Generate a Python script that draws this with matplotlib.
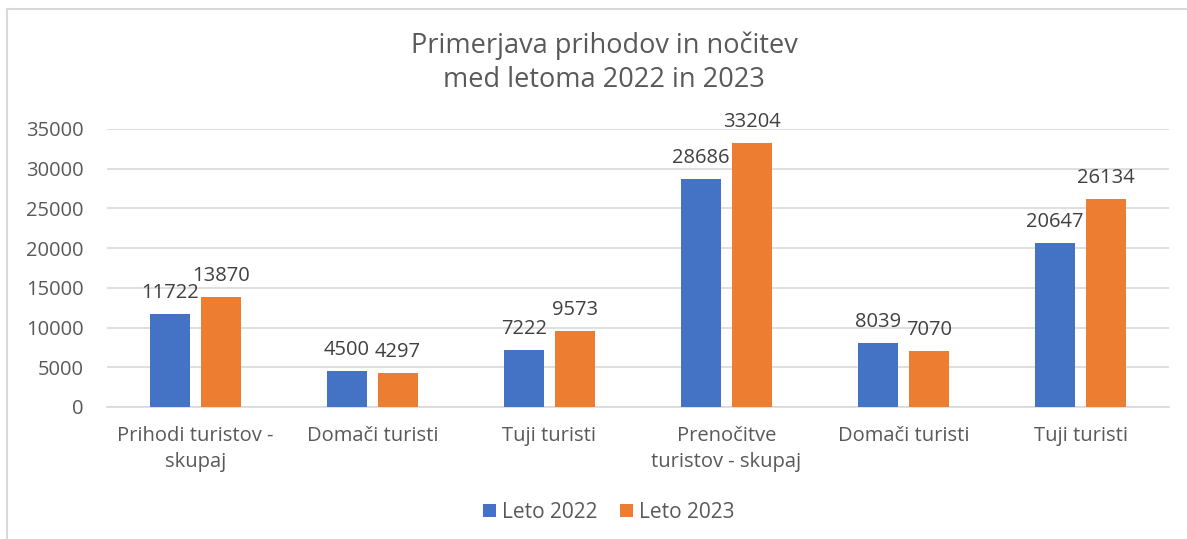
import matplotlib
matplotlib.use("Agg")
import matplotlib.pyplot as plt
from matplotlib.lines import Line2D
import numpy as np

categories = ["Prihodi turistov -\nskupaj", "Domači turisti", "Tuji turisti",
              "Prenočitve\nturistov - skupaj", "Domači turisti", "Tuji turisti"]
leto_2022 = [11722, 4500, 7222, 28686, 8039, 20647]
leto_2023 = [13870, 4297, 9573, 33204, 7070, 26134]
yticks = [0, 5000, 10000, 15000, 20000, 25000, 30000, 35000]

plt.rcParams['font.family'] = ['Open Sans', 'DejaVu Sans']
TXT = '#595959'
BLUE = '#4472C4'
ORANGE = '#ED7D31'
GRID = '#D9D9D9'

W, H = 1187, 539
fig = plt.figure(figsize=(W/100, H/100), dpi=100)
ax = fig.add_axes([107/W, 1-407/H, (1169-107)/W, (407-129)/H])

x = np.arange(len(categories))
bw = 0.225
off = 0.144
b1 = ax.bar(x - off, leto_2022, bw, color=BLUE, label='Leto 2022', zorder=3)
b2 = ax.bar(x + off, leto_2023, bw, color=ORANGE, label='Leto 2023', zorder=3)

for bars in (b1, b2):
    for r in bars:
        ax.annotate(f"{int(r.get_height())}", (r.get_x() + r.get_width()/2, r.get_height()),
                    xytext=(0, 8), textcoords='offset points', ha='center', va='bottom',
                    fontsize=14.5, color='#404040', zorder=4)

ax.set_xlim(-0.5, len(categories) - 0.5)
ax.set_ylim(0, 35000)
ax.set_yticks(yticks)
ax.set_yticklabels([str(v) for v in yticks], fontsize=14.5, color=TXT)
ax.set_xticks(x)
ax.set_xticklabels(categories, fontsize=14.5, color=TXT, linespacing=1.4)
ax.tick_params(axis='both', length=0)
ax.tick_params(axis='y', pad=17)
ax.tick_params(axis='x', pad=14)
ax.yaxis.grid(True, color=GRID, linewidth=1.2, zorder=0)
for s in ('top', 'right', 'left'):
    ax.spines[s].set_visible(False)
ax.spines['bottom'].set_color(GRID)
ax.spines['bottom'].set_linewidth(1.2)

fig.text(604/W, 1-63/H, "Primerjava prihodov in nočitev\nmed letoma 2022 in 2023",
         ha='center', va='center', fontsize=19.5, color=TXT, linespacing=1.27)

leg = fig.legend(handles=[b1, b2], loc='center', bbox_to_anchor=(609/W, 1-512/H), ncol=2,
                 frameon=False, fontsize=15, handlelength=0.6, handleheight=0.6,
                 handletextpad=0.3, columnspacing=1.1)
for t in leg.get_texts():
    t.set_color(TXT)

# chart area border (left and top visible)
fig.add_artist(Line2D([7/W, 7/W], [0, 1-9/H], transform=fig.transFigure, color=GRID, linewidth=1.5))
fig.add_artist(Line2D([7/W, 1], [1-9/H, 1-9/H], transform=fig.transFigure, color=GRID, linewidth=1.5))

fig.savefig('out.png', dpi=100, facecolor='white')
